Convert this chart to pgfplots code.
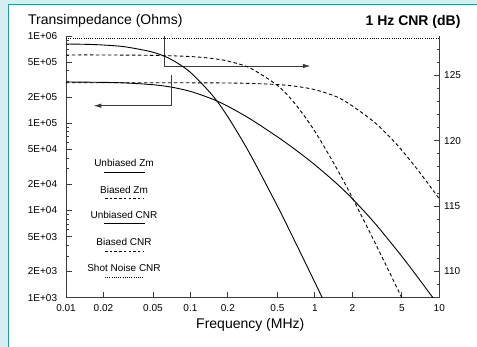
\documentclass[border=0pt]{standalone}
\usepackage{pgfplots}
\pgfplotsset{compat=1.18}
\usepackage{pgfplotstable}
\usepackage{fontspec}
\setmainfont{Liberation Sans}
\usetikzlibrary{arrows.meta}
\definecolor{bgteal}{RGB}{213,238,241}
\definecolor{bordteal}{RGB}{40,150,165}
\definecolor{axgray}{RGB}{60,60,60}

\pgfplotstableread{
f z
0.01 127.39
0.015 127.36
0.02 127.31
0.03 127.17
0.05 126.76
0.07 126.21
0.1 125.22
0.15 123.47
0.2 121.82
0.3 119.01
0.5 115.00
0.7 112.20
1.0 109.17
1.2 107.60
}\ucnr

\pgfplotstableread{
f z
0.01 126.55
0.02 126.55
0.05 126.52
0.1 126.43
0.15 126.28
0.2 126.08
0.3 125.56
0.5 124.22
0.7 122.77
1.0 120.71
1.5 117.87
2.0 115.64
3.0 112.32
4.0 109.89
5.0 107.99
5.5 107.17
}\bcnr

\pgfplotstableread{
f z
0.01 2.970e5
0.02 2.942e5
0.03 2.896e5
0.05 2.764e5
0.07 2.595e5
0.1 2.317e5
0.15 1.894e5
0.2 1.564e5
0.3 1.128e5
0.5 6.995e4
0.7 4.953e4
1.0 3.338e4
1.5 2.029e4
2.0 1.364e4
3.0 7.278e3
5.0 2.975e3
7.0 1.582e3
9.0 975
10 794
}\uzm

\pgfplotstableread{
f z
0.01 2.914e5
0.03 2.913e5
0.1 2.908e5
0.2 2.891e5
0.3 2.862e5
0.5 2.775e5
0.7 2.653e5
1.0 2.426e5
1.5 2.006e5
2.0 1.580e5
3.0 1.030e5
4.0 6.950e4
5.0 4.900e4
7.0 2.700e4
10 1.360e4
}\bzm

\pgfplotsset{myaxisbase/.style={
  scale only axis, width=373.3bp, height=261.7bp,
  at={(66bp,49.3bp)}, anchor=south west,
  xmin=0.01, xmax=10,
  tick align=inside, major tick length=5.7bp, minor tick length=2.7bp,
  every tick label/.append style={font=\fontsize{10bp}{12bp}\selectfont},
  axis line style={axgray, line width=0.8bp},
  every tick/.style={axgray, line width=0.8bp},
}}
\tikzset{crv/.style={black, line width=0.9bp},
  dsh/.style={dash pattern=on 3.5bp off 2.5bp},
  dtt/.style={dash pattern=on 0.8bp off 1.4bp}}

\begin{document}
\begin{tikzpicture}
\useasboundingbox (0bp,0bp) rectangle (477bp,347bp);
\fill[bgteal] (0bp,0bp) rectangle (477bp,347bp);
\fill[white] (8.3bp,0bp) rectangle (477bp,342.7bp);
\draw[bordteal, line width=1bp] (8.3bp,0bp) -- (8.3bp,342.7bp) -- (477bp,342.7bp);

\begin{axis}[myaxisbase, xmode=log,
  ymode=log, ymin=1e3, ymax=1e6,
  axis x line*=bottom, axis y line*=left,
  xtick={0.01,0.02,0.05,0.1,0.2,0.5,1,2,5,10},
  xticklabels={0.01,0.02,0.05,0.1,0.2,0.5,1,2,5,10},
  xminorticks=false,
  ytick={1e3,2e3,5e3,1e4,2e4,5e4,1e5,2e5,5e5,1e6},
  yticklabels={1E+03,2E+03,5E+03,1E+04,2E+04,5E+04,1E+05,2E+05,5E+05,1E+06},
  minor ytick={3e3,4e3,6e3,7e3,8e3,9e3,3e4,4e4,6e4,7e4,8e4,9e4,3e5,4e5,6e5,7e5,8e5,9e5},
  yticklabel style={inner sep=0pt, xshift=-8.7bp},
  xticklabel style={inner sep=0pt, yshift=-7bp},
  xlabel={Frequency (MHz)},
  ylabel={Transimpedance (Ohms)},
  every axis x label/.style={at={(rel axis cs:0.4937,-0.1043)}, anchor=center, inner sep=0pt, font=\fontsize{14bp}{16bp}\selectfont},
  every axis y label/.style={at={(rel axis cs:-0.1018,1.0562)}, anchor=west, inner sep=0pt, font=\fontsize{14bp}{16bp}\selectfont},
]
\addplot[crv, smooth] table[x=f, y=z] {\uzm};
\addplot[crv, dsh, smooth] table[x=f, y=z] {\bzm};
% arrows
\draw[axgray, line width=0.9bp, -{Latex[length=8bp,width=4.5bp]}]
  (axis cs:0.0617,1e6) -- (axis cs:0.0617,4.53e5) -- (axis cs:0.927,4.53e5);
\draw[axgray, line width=0.9bp, -{Latex[length=8bp,width=4.5bp]}]
  (axis cs:0.0707,3.57e5) -- (axis cs:0.0707,1.588e5) -- (axis cs:0.01658,1.588e5);
% legend
\node[font=\fontsize{10bp}{12bp}\selectfont, inner sep=0pt] at (rel axis cs:0.1554,0.5136) {Unbiased Zm};
\draw[black, line width=0.9bp] (rel axis cs:0.1031,0.4776) -- (rel axis cs:0.2116,0.4776);
\node[font=\fontsize{10bp}{12bp}\selectfont, inner sep=0pt] at (rel axis cs:0.1554,0.4118) {Biased Zm};
\draw[black, line width=0.9bp, dash pattern=on 2.5bp off 2.2bp] (rel axis cs:0.1045,0.3786) -- (rel axis cs:0.2063,0.3786);
\node[font=\fontsize{10bp}{12bp}\selectfont, inner sep=0pt] at (rel axis cs:0.1554,0.3160) {Unbiased CNR};
\draw[black, line width=0.9bp] (rel axis cs:0.1031,0.2843) -- (rel axis cs:0.2116,0.2843);
\node[font=\fontsize{10bp}{12bp}\selectfont, inner sep=0pt] at (rel axis cs:0.1554,0.2140) {Biased CNR};
\draw[black, line width=0.9bp, dash pattern=on 2.5bp off 2.2bp] (rel axis cs:0.1045,0.1784) -- (rel axis cs:0.2063,0.1784);
\node[font=\fontsize{10bp}{12bp}\selectfont, inner sep=0pt] at (rel axis cs:0.1554,0.1146) {Shot Noise CNR};
\draw[black, line width=0.9bp, dash pattern=on 0.8bp off 1.4bp] (rel axis cs:0.1045,0.0780) -- (rel axis cs:0.2063,0.0780);
\end{axis}

\begin{axis}[myaxisbase, xmode=log,
  ymin=108, ymax=128,
  axis y line*=right, hide x axis,
  /pgf/number format/assume math mode=true,
  ytick={110,115,120,125},
  minor ytick={109,111,112,113,114,116,117,118,119,121,122,123,124,126,127},
  yticklabel style={inner sep=0pt, anchor=west, xshift=4.7bp},
  ylabel={\bfseries 1 Hz CNR (dB)},
  every axis y label/.style={at={(rel axis cs:1.0573,1.0535)}, anchor=east, inner sep=0pt, font=\fontsize{14bp}{16bp}\selectfont},
]
\addplot[crv, smooth] table[x=f, y=z] {\ucnr};
\addplot[crv, dsh, smooth] table[x=f, y=z] {\bcnr};
\addplot[crv, dtt] coordinates {(0.01,127.82) (10,127.82)};
\end{axis}
\end{tikzpicture}
\end{document}
